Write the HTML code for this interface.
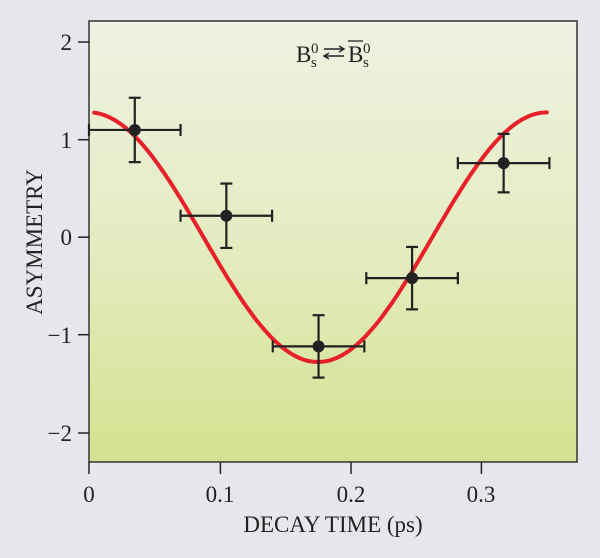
<!DOCTYPE html>
<html><head><style>
body{margin:0;background:#e6e7eb;}
svg{display:block;font-family:"Liberation Serif",serif;}
</style></head><body>
<svg width="600" height="558" viewBox="0 0 600 558" xmlns="http://www.w3.org/2000/svg">
<defs><linearGradient id="g" x1="0" y1="0" x2="0" y2="1">
<stop offset="0" stop-color="#eef2e2"/><stop offset="0.5" stop-color="#e4ecc2"/><stop offset="1" stop-color="#d3e290"/></linearGradient></defs>
<rect width="600" height="558" fill="#e6e7eb"/>
<rect x="89" y="21" width="488" height="441" fill="url(#g)" stroke="#333" stroke-width="1.5"/>
<g stroke="#222" stroke-width="1.5">
<line x1="78" y1="42" x2="89" y2="42"/><line x1="78" y1="139.7" x2="89" y2="139.7"/>
<line x1="78" y1="237.2" x2="89" y2="237.2"/><line x1="78" y1="334.7" x2="89" y2="334.7"/>
<line x1="78" y1="433" x2="89" y2="433"/>
<line x1="89" y1="462" x2="89" y2="474"/><line x1="220.4" y1="462" x2="220.4" y2="474"/>
<line x1="351" y1="462" x2="351" y2="474"/><line x1="481.4" y1="462" x2="481.4" y2="474"/>
</g>
<g font-size="23" fill="#222" text-anchor="end">
<text x="72" y="50">2</text><text x="72" y="148">1</text><text x="72" y="245">0</text>
<text x="72" y="343">−1</text><text x="72" y="441">−2</text>
</g>
<g font-size="23" fill="#222" text-anchor="middle">
<text x="89" y="502">0</text><text x="220" y="502">0.1</text><text x="351" y="502">0.2</text><text x="481" y="502">0.3</text>
<text x="333" y="532">DECAY TIME (ps)</text>
</g>
<text transform="translate(42,242) rotate(-90)" font-size="23" fill="#222" text-anchor="middle">ASYMMETRY</text>
<g fill="#222">
<text x="296" y="62" font-size="23">B</text>
<text x="311" y="53" font-size="15">0</text>
<text x="311" y="67" font-size="15">s</text>
<text x="348" y="62" font-size="23">B</text>
<text x="363" y="53" font-size="15">0</text>
<text x="363" y="67" font-size="15">s</text>
</g>
<line x1="348" y1="41" x2="363" y2="41" stroke="#222" stroke-width="1.3"/>
<g stroke="#222" stroke-width="1.4" fill="none">
<line x1="324" y1="49" x2="343" y2="49"/><polyline points="339,46 344,49 339,52"/>
<line x1="325" y1="56" x2="344" y2="56"/><polyline points="329,53 324,56 329,59"/>
</g>
<polyline id="curve" fill="none" stroke="#e8202a" stroke-width="4" stroke-linecap="round" points=""/>
<g id="pts" stroke="#222" stroke-width="2.2" fill="#222"></g>
</svg>
<script>
var X=t=>89+t*1308,Y=a=>237.2-a*97.5,p=[];
for(var t=0.004;t<=0.3505;t+=0.002)p.push(X(t).toFixed(1)+","+Y(1.28*Math.cos(2*Math.PI*t/0.35)).toFixed(1));
document.getElementById("curve").setAttribute("points",p.join(" "));
var d=[[0.035,1.1,0.33],[0.105,0.22,0.33],[0.1755,-1.12,0.32],[0.247,-0.42,0.32],[0.317,0.76,0.3]],h="";
d.forEach(function(q){var x=X(q[0]),y=Y(q[1]),x1=X(q[0]-0.035),x2=X(q[0]+0.035),y1=Y(q[1]+q[2]),y2=Y(q[1]-q[2]);
h+='<line x1="'+x1+'" y1="'+y+'" x2="'+x2+'" y2="'+y+'"/><line x1="'+x+'" y1="'+y1+'" x2="'+x+'" y2="'+y2+'"/>'+
'<line x1="'+x1+'" y1="'+(y-6)+'" x2="'+x1+'" y2="'+(y+6)+'"/><line x1="'+x2+'" y1="'+(y-6)+'" x2="'+x2+'" y2="'+(y+6)+'"/>'+
'<line x1="'+(x-6)+'" y1="'+y1+'" x2="'+(x+6)+'" y2="'+y1+'"/><line x1="'+(x-6)+'" y1="'+y2+'" x2="'+(x+6)+'" y2="'+y2+'"/>'+
'<circle cx="'+x+'" cy="'+y+'" r="6" stroke="none"/>';});
document.getElementById("pts").innerHTML=h;
</script>
</body></html>
